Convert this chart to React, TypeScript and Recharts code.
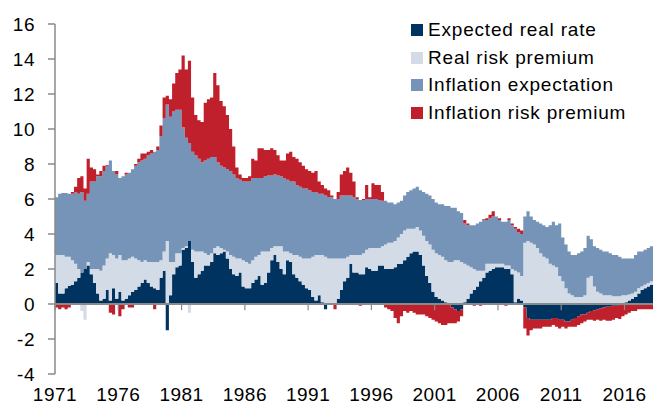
import { AreaChart, Area, XAxis, YAxis, ReferenceLine, Legend } from 'recharts'

// quarterly readings, 1971Q1 .. 2018Q2 (one row per year)
const expectedRealRate = [
  1.2, 0.6, 0.6, 0.9,
  1.05, 1.1, 1.3, 1.5,
  1.8, 2.0, 2.2, 1.7,
  1.2, 0.6, 0.2, 0.3,
  0.8, 0.2, 0.9, 0.3,
  0.7, 0.2, 0.3, 0.5,
  0.7, 0.8, 1.0, 1.2,
  1.4, 1.2, 1.0, 0.9,
  0.8, 1.5, 1.9, -1.5,
  0.5, 1.7, 2.1, 2.2,
  3.1, 3.2, 3.6, 2.4,
  1.5, 1.7, 1.9, 2.2,
  2.2, 2.4, 2.9, 2.8,
  2.9, 3.0, 2.6, 2.0,
  1.7, 1.6, 1.8, 1.0,
  0.9, 0.9, 1.2, 1.4,
  1.6, 1.1, 1.2, 1.8,
  2.5, 2.8, 2.4, 2.0,
  1.7, 2.5, 2.4, 1.7,
  1.5, 1.3, 1.1, 0.9,
  0.8, 0.4, 0.2, 0.5,
  0.1, -0.3, 0.05, 0.05,
  0.05, 0.3, 0.8, 1.3,
  1.5, 2.3, 1.8, 1.8,
  1.7, 1.7, 2.1, 2.0,
  1.9, 1.9, 2.2, 2.2,
  2.0, 2.0, 2.0, 2.1,
  2.3, 2.3, 2.5, 2.7,
  2.9, 3.0, 3.0, 2.8,
  2.2, 1.6, 1.2, 0.7,
  0.4, 0.3, 0.2, 0.1,
  0.05, -0.2, -0.3, -0.4,
  -0.3, 0.1, 0.3, 0.6,
  0.8, 1.0, 1.3, 1.5,
  1.8, 1.9, 2.0, 2.1,
  2.1, 2.1, 2.0, 2.0,
  1.7, 0.1, 0.3, 0.2,
  -0.2, -0.8, -0.9, -0.9,
  -0.9, -0.9, -0.9, -0.9,
  -0.9, -0.8, -0.8, -0.9,
  -0.9, -1.0, -1.0, -0.9,
  -0.8, -0.7, -0.6, -0.6,
  -0.5, -0.4, -0.35, -0.3,
  -0.25, -0.2, -0.15, -0.15,
  -0.1, -0.1, -0.05, 0.05,
  0.1, 0.2, 0.3, 0.4,
  0.6, 0.8, 0.9, 1.0,
  1.1, 1.2,
]

const realRiskPremium = [
  1.6, 2.2, 2.2, 1.8,
  1.65, 1.4, 1.0, 0.5,
  -0.4, -0.9, 0.2, 0.3,
  0.8, 1.4, 1.7, 1.9,
  1.8, 2.7, 1.9, 2.3,
  2.1, 2.3, 2.2, 2.1,
  2.0, 1.8, 1.5, 1.2,
  1.1, 1.2, 1.4, 1.5,
  1.6, 1.0, 1.1, 3.6,
  1.9, 0.7, 0.8, 0.7,
  0.1, 0.1, -0.5, 0.7,
  1.5, 1.3, 1.1, 0.7,
  0.6, 0.5, 0.3, 0.5,
  0.3, 0.1, 0.4, 0.8,
  1.0, 1.0, 0.8, 1.5,
  1.5, 1.4, 1.3, 1.3,
  1.2, 1.9, 1.8, 1.2,
  0.7, 0.5, 0.9, 1.3,
  1.3, 0.5, 0.5, 1.1,
  1.3, 1.4, 1.5, 1.7,
  1.8, 2.3, 2.6, 2.3,
  2.7, 2.7, 2.55, 2.55,
  2.55, 2.3, 1.8, 1.3,
  1.2, 0.5, 1.0, 1.0,
  1.1, 1.2, 1.0, 1.2,
  1.3, 1.3, 1.0, 1.1,
  1.4, 1.5, 1.5, 1.5,
  1.5, 1.7, 1.7, 1.6,
  1.4, 1.3, 1.4, 1.4,
  1.7, 2.0, 2.2, 2.4,
  2.5, 2.5, 2.5, 2.4,
  2.35, 2.4, 2.5, 2.5,
  2.4, 2.2, 1.9, 1.5,
  1.2, 0.9, 0.6, 0.4,
  0.5, 0.4, 0.3, 0.2,
  0.2, 0.2, 0.2, 0.2,
  0.3, 1.8, 1.5, 1.4,
  3.5, 3.6, 3.5, 3.4,
  3.2, 2.9, 2.7, 2.6,
  2.3, 2.2, 2.1, 1.6,
  1.3, 0.9, 0.6, 0.5,
  0.4, 0.4, 0.4, 0.5,
  1.5, 1.6, 1.0, 0.7,
  0.6, 0.5, 0.5, 0.5,
  0.45, 0.45, 0.45, 0.45,
  0.4, 0.35, 0.3, 0.3,
  0.3, 0.2, 0.2, 0.2,
  0.2, 0.15,
]

const inflationExpectation = [
  3.3, 3.5, 3.55, 3.65,
  3.6, 3.8, 4.1, 4.3,
  4.6, 3.9, 3.9, 5.0,
  5.0, 5.3, 5.4, 5.4,
  5.3, 5.3, 4.8, 4.8,
  4.4, 4.8, 4.9, 4.9,
  5.0, 5.3, 5.6, 5.8,
  5.8, 6.1, 6.2, 6.3,
  6.4, 7.1, 7.6, 7.8,
  8.3, 8.6, 8.2, 8.2,
  6.9, 6.2, 5.6, 5.6,
  5.5, 5.3, 5.1, 5.3,
  5.5, 5.5, 5.2, 4.8,
  4.7, 4.7, 4.7, 4.8,
  4.7, 4.6, 4.5, 4.5,
  4.6, 4.7, 4.7, 4.5,
  4.4, 4.2, 4.3, 4.35,
  4.15, 4.1, 4.05, 4.0,
  4.2, 4.1, 4.1, 4.2,
  4.0, 4.0, 4.0, 4.0,
  3.9, 3.7, 3.6, 3.5,
  3.5, 3.5, 3.5, 3.5,
  3.4, 3.4, 3.6, 3.6,
  3.5, 3.4, 3.3, 3.2,
  3.15, 3.05, 2.9, 2.8,
  2.8, 2.8, 2.75, 2.6,
  2.5, 2.3, 2.3, 2.1,
  2.0, 1.9, 2.0, 2.1,
  2.2, 2.3, 2.3, 2.3,
  2.5, 2.7, 2.8, 2.9,
  2.9, 2.9, 3.0, 3.1,
  3.2, 3.1, 3.0, 2.8,
  2.8, 2.3, 2.3, 2.4,
  2.5, 2.7, 2.8, 2.9,
  2.5, 2.6, 2.7, 2.7,
  2.5, 2.4, 2.5, 2.6,
  2.5, 2.4, 2.3, 2.4,
  1.5, 1.7, 1.5, 1.4,
  1.5, 1.7, 1.8, 1.8,
  2.2, 2.5, 2.4, 3.0,
  2.5, 2.5, 2.4, 2.3,
  2.4, 2.5, 2.6, 2.7,
  2.4, 2.1, 2.3, 2.5,
  2.5, 2.5, 2.5, 2.4,
  2.35, 2.35, 2.25, 2.1,
  2.1, 2.05, 2.0, 2.1,
  2.1, 2.0, 2.0, 2.0,
  2.0, 2.1,
]

const inflationRiskPremium = [
  -0.2, -0.3, -0.2, -0.3,
  -0.2, 0.1, 0.3, 0.9,
  0.9, 0.7, 2.0, 0.8,
  0.7, 0.1, 0.3, 0.3,
  0.05, -0.5, -0.6, 0.2,
  -0.7, -0.3, 0.1, -0.2,
  -0.2, 0.1, 0.2, 0.4,
  0.3, 0.2, 0.2, -0.3,
  0.2, 0.6, 1.2, 0.5,
  1.0, 1.6, 2.1, 2.3,
  4.1, 3.9, 4.7, 3.1,
  2.3, 2.2, 2.3, 3.3,
  3.4, 3.4, 4.8, 4.4,
  3.7, 3.5, 3.1, 2.4,
  1.6, 0.6, 0.3, 0.2,
  0.2, 0.3, 1.1, 1.0,
  1.7, 1.7, 1.5, 1.45,
  1.55, 1.4, 1.15, 0.9,
  1.0, 1.5, 1.7, 1.4,
  1.5, 1.4, 1.3, 1.1,
  1.1, 1.1, 1.2, 0.7,
  0.5, 0.4, 0.4, 0.1,
  -0.3, 0.4, 1.2, 1.4,
  1.6, 1.3, 0.9, 0.1,
  -0.1, 0.05, 0.8, 0.1,
  0.9, 0.8, 0.85, 0.5,
  -0.2, -0.3, -0.4, -0.8,
  -1.1, -0.7, -0.4, -0.5,
  -0.4, -0.5, -0.6, -0.6,
  -0.6, -0.7, -0.8, -0.9,
  -1.0, -1.1, -1.2, -1.2,
  -1.1, -0.9, -0.8, -0.6,
  -0.4, 0.2, 0.1, -0.05,
  -0.1, -0.05, -0.1, 0.05,
  0.1, 0.2, 0.3, -0.05,
  0.1, -0.05, -0.1, 0.1,
  0.1, 0.1, 0.2, 0.2,
  -1.2, -1.0, -0.6, -0.5,
  -0.5, -0.5, -0.4, -0.4,
  -0.4, -0.4, -0.5, -0.5,
  -0.4, -0.4, -0.3, -0.4,
  -0.5, -0.5, -0.5, -0.4,
  -0.4, -0.5, -0.6, -0.6,
  -0.7, -0.7, -0.8, -0.8,
  -0.8, -0.7, -0.8, -0.7,
  -0.6, -0.5, -0.4, -0.4,
  -0.3, -0.3, -0.3, -0.3,
  -0.3, -0.3,
]

// time of each quarterly reading, in years
const quarterStarts = expectedRealRate.map((_, i) => 1971 + i / 4)
const yearTicks = [1971, 1976, 1981, 1986, 1991, 1996, 2001, 2006, 2011, 2016]
const yTicks = [-4, -2, 0, 2, 4, 6, 8, 10, 12, 14, 16]

const series = [
  { key: 'er', name: 'Expected real rate', color: '#00335f', values: expectedRealRate },
  { key: 'rrp', name: 'Real risk premium', color: '#d3dbe7', values: realRiskPremium },
  { key: 'ie', name: 'Inflation expectation', color: '#7594b7', values: inflationExpectation },
  { key: 'irp', name: 'Inflation risk premium', color: '#c0202b', values: inflationRiskPremium },
]

const data = quarterStarts.map((t, i) => {
  const row: Record<string, number> = { t }
  series.forEach((s) => (row[s.key] = s.values[i]))
  return row
})

const font = '"Liberation Sans", Arial, sans-serif'
const grey = '#8a8a8a'

function LegendBox() {
  return (
    <div style={{ fontFamily: font, fontSize: 19, letterSpacing: 0.8, color: '#000' }}>
      {series.map((s) => (
        <div key={s.key} style={{ display: 'flex', alignItems: 'center', height: 27.7 }}>
          <span style={{ display: 'inline-block', width: 12, height: 12, background: s.color, marginRight: 5 }} />
          <span>{s.name}</span>
        </div>
      ))}
    </div>
  )
}

export default function App() {
  return (
    <div style={{ position: 'absolute', left: 0, top: 0, width: 653, height: 407, background: '#fff' }}>
      <AreaChart
        width={653}
        height={407}
        data={data}
        stackOffset="sign"
        margin={{ top: 24, right: 0, left: 0, bottom: 0 }}
      >
        <XAxis
          dataKey="t"
          type="number"
          domain={[1971, 2018.25]}
          ticks={yearTicks}
          interval={0}
          axisLine={false}
          tickLine={false}
          tickSize={0}
          tickMargin={14}
          height={33}
          tick={{ fontSize: 19, fill: '#000', fontFamily: font, letterSpacing: 0.5 }}
        />
        <YAxis
          domain={[-4, 16]}
          ticks={yTicks}
          interval={0}
          width={55}
          allowDataOverflow
          axisLine={{ stroke: grey, strokeWidth: 1.5 }}
          tickLine={{ stroke: grey, strokeWidth: 1.5 }}
          tickSize={7}
          tickMargin={13}
          tick={{ fontSize: 19, fill: '#000', fontFamily: font, letterSpacing: 0.5 }}
        />
        <Legend
          layout="vertical"
          align="center"
          verticalAlign="middle"
          wrapperStyle={{ top: 16, left: 411, width: 240 }}
          content={() => <LegendBox />}
        />
        {series.map((s) => (
          <Area
            key={s.key}
            dataKey={s.key}
            name={s.name}
            stackId="a"
            type="stepAfter"
            fill={s.color}
            fillOpacity={1}
            stroke="none"
            dot={false}
            activeDot={false}
            isAnimationActive={false}
          />
        ))}
        <ReferenceLine y={0} stroke={grey} strokeWidth={2} />
        {yearTicks.map((y) => (
          <ReferenceLine
            key={y}
            segment={[
              { x: y, y: 0 },
              { x: y, y: -0.35 },
            ]}
            stroke={grey}
            strokeWidth={1.2}
          />
        ))}
      </AreaChart>
    </div>
  )
}
